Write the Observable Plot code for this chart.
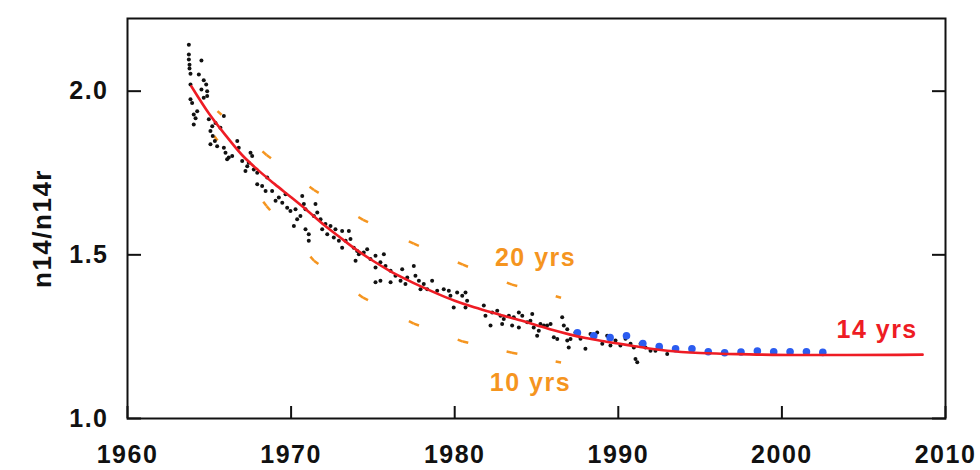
<!DOCTYPE html>
<html>
<head>
<meta charset="utf-8">
<script src="https://cdn.jsdelivr.net/npm/d3@7"></script>
<script src="https://cdn.jsdelivr.net/npm/@observablehq/plot@0.6"></script>
<style>
  html, body { margin: 0; padding: 0; background: #ffffff; }
  #chart svg text { font-family: "Liberation Sans", Arial, sans-serif; font-weight: bold; letter-spacing: 1.5px; }
</style>
</head>
<body>
<div id="chart"></div>
<script>
// Observed ratio (black dots)
const obsYear = [
  1963.75,1963.75,1963.75,1963.79,1963.79,1963.85,1964.52,1964.36,1963.85,1964.66,1964.81,1964.52,1964.87,1964.87,1963.85,1963.95,
  1964.66,1964.26,1964.05,1964.16,1964.05,1964.97,1965.18,1965.38,1965.89,1965.07,1965.21,1965.34,1965.07,1965.48,1965.68,
  1965.89,1965.99,1966.19,1966.40,1966.09,1966.71,1966.80,1967.01,1967.32,1967.41,1967.62,1967.72,1967.21,1967.93,1967.52,
  1967.93,1968.23,1968.54,1968.44,1968.84,1969.05,1969.25,1969.46,1969.66,1969.76,1969.96,1970.27,1970.68,1970.78,1970.37,
  1970.17,1970.57,1970.88,1971.49,1971.60,1971.39,1971.80,1972.10,1971.90,1972.41,1972.71,1970.88,1971.08,1971.08,1972.21,
  1972.61,1972.92,1973.12,1973.53,1973.63,1973.83,1974.04,
  1973.12,1973.33,1973.94,1974.14,1974.44,1974.65,1974.85,1975.16,1975.46,1975.67,1975.77,1975.16,1976.08,1975.46,1975.16,
  1976.08,1976.38,1976.79,1976.69,1976.99,1977.10,1977.50,1977.60,1977.81,1978.11,1978.32,1977.91,1978.62,1978.93,1979.33,
  1979.64,1979.74,1980.15,1980.46,1980.66,1980.76,1979.94,
  1980.66,1981.78,1981.88,1982.29,1982.60,1982.80,1983.00,1983.31,1983.61,1983.92,1984.13,1982.19,1982.90,1983.51,1983.92,
  1984.43,1984.63,1984.74,1984.83,1985.14,1985.24,1985.45,1985.65,1985.86,1985.04,1986.06,1986.27,1986.57,1986.67,1986.88,
  1986.88,1986.97,
  1987.08,1987.38,1987.99,1988.30,1988.71,1989.02,1989.32,1989.83,1990.13,1990.75,1990.95,1991.05,1991.16,1991.36,1991.66,
  1991.97,1992.27,1992.58,1992.99,1987.69,1989.52,1990.44
];
const obsValue = [
  2.142,2.112,2.097,2.081,2.069,2.053,2.094,2.051,2.020,2.033,2.020,2.005,2.000,1.985,1.975,1.964,
  1.980,1.939,1.929,1.917,1.898,1.914,1.893,1.903,1.924,1.878,1.863,1.848,1.838,1.832,1.888,
  1.827,1.812,1.797,1.802,1.792,1.848,1.827,1.787,1.771,1.781,1.802,1.761,1.756,1.751,1.812,
  1.716,1.710,1.736,1.695,1.695,1.665,1.675,1.659,1.685,1.644,1.634,1.639,1.680,1.655,1.609,
  1.588,1.619,1.639,1.655,1.629,1.619,1.609,1.594,1.578,1.588,1.578,1.578,1.563,1.543,1.563,
  1.553,1.543,1.522,1.573,1.548,1.522,1.512,
  1.573,1.543,1.482,1.502,1.507,1.517,1.487,1.497,1.477,1.502,1.466,1.461,1.451,1.421,1.416,
  1.416,1.436,1.456,1.421,1.411,1.431,1.466,1.436,1.421,1.411,1.395,1.395,1.421,1.390,1.395,
  1.390,1.375,1.385,1.375,1.385,1.360,1.339,
  1.339,1.345,1.314,1.324,1.329,1.314,1.304,1.314,1.309,1.324,1.314,1.284,1.289,1.284,1.278,
  1.294,1.299,1.319,1.278,1.268,1.289,1.284,1.284,1.289,1.253,1.248,1.243,1.309,1.284,1.273,
  1.238,1.217,
  1.243,1.263,1.213,1.258,1.263,1.228,1.253,1.238,1.223,1.228,1.217,1.182,1.172,1.228,1.217,
  1.207,1.207,1.213,1.197,1.244,1.223,1.244
];

// Later annual values (blue dots)
const recentYear = [1987.5,1988.5,1989.5,1990.5,1991.5,1992.5,1993.5,1994.5,1995.5,1996.5,1997.5,1998.5,1999.5,2000.5,2001.5,2002.5];
const recentValue = [1.262,1.253,1.247,1.253,1.229,1.220,1.213,1.213,1.204,1.201,1.203,1.206,1.204,1.204,1.204,1.202];

// 14-year model curve (red)
const fitYear = [1963.9,1965,1966,1967,1968,1969,1970,1971,1972,1973,1974,1975,1976,1977,1978,1979,1980,1981,1982,1983,1984,1985,1986,1987,1988,1989,1990,1991,1992,1993,1995,1998,2001,2004,2008.6];
const fitValue = [2.015,1.930,1.865,1.805,1.758,1.716,1.676,1.635,1.592,1.553,1.515,1.482,1.452,1.426,1.402,1.380,1.360,1.343,1.328,1.314,1.300,1.285,1.270,1.257,1.246,1.237,1.229,1.221,1.213,1.207,1.200,1.196,1.194,1.194,1.195];

// 20-year model curve (orange, upper dashes)
const slowYear = [1965.5,1968.5,1971.4,1974.4,1977.5,1980.5,1983.5,1986.5];
const slowValue = [1.939,1.805,1.698,1.607,1.534,1.470,1.409,1.369];

// 10-year model curve (orange, lower dashes)
const fastYear = [1965.3,1968.5,1971.4,1974.4,1977.5,1980.5,1983.5,1986.5];
const fastValue = [1.863,1.649,1.482,1.369,1.290,1.235,1.201,1.171];

// Axis ticks
const xTicks = [1960,1970,1980,1990,2000,2010];
const yTicks = [1.0,1.5,2.0];

// Annotations
const noteText = ["20 yrs","10 yrs","14 yrs"];
const noteYear = [1984.94,1984.63,2005.82];
const noteValue = [1.490,1.109,1.271];
const noteKind = ["slow","fast","fit"];
const yLabel = "n14/n14r";

const ORANGE = "#f5951f";
const RED = "#ee1c24";
const BLUE = "#2b5cf0";

const obs = obsYear.map((x, i) => ({x, y: obsValue[i]}));
const recent = recentYear.map((x, i) => ({x, y: recentValue[i]}));
const fit = fitYear.map((x, i) => ({x, y: fitValue[i]}));
const notes = noteText.map((t, i) => ({t, x: noteYear[i], y: noteValue[i], c: noteKind[i] === "fit" ? RED : ORANGE}));

function dashMarks(xs, ys) {
  const idx = d3.range(xs.length - 1);
  const common = {stroke: ORANGE, strokeWidth: 2.5, strokeDasharray: "5.5,3000", strokeLinecap: "butt"};
  return [
    Plot.link(idx, {x1: i => xs[i], y1: i => ys[i], x2: i => xs[i + 1], y2: i => ys[i + 1], ...common}),
    Plot.link(idx, {x1: i => xs[i + 1], y1: i => ys[i + 1], x2: i => xs[i], y2: i => ys[i], ...common})
  ];
}

const chart = Plot.plot({
  width: 980,
  height: 470,
  marginLeft: 127,
  marginRight: 35,
  marginTop: 18,
  marginBottom: 52,
  style: {background: "#ffffff", color: "#111", fontFamily: "Liberation Sans, Arial, sans-serif", fontSize: "24px"},
  x: {domain: [1960, 2010]},
  y: {domain: [1.0, 2.222]},
  marks: [
    ...dashMarks(slowYear, slowValue),
    ...dashMarks(fastYear, fastValue),
    Plot.dot(obs, {x: "x", y: "y", r: 2.0, fill: "#111", stroke: null}),
    Plot.dot(recent, {x: "x", y: "y", r: 3.8, fill: BLUE, stroke: null}),
    Plot.line(fit, {x: "x", y: "y", stroke: RED, strokeWidth: 2.6, curve: "monotone-x"}),
    Plot.text(notes, {x: "x", y: "y", text: "t", fill: "c", fontSize: 25, fontWeight: "bold"}),
    Plot.text([yLabel], {frameAnchor: "left", textAnchor: "middle", lineAnchor: "middle", rotate: -90, dx: -85, dy: 10, fontSize: 26, fontWeight: "bold", fill: "#111"}),
    Plot.frame({stroke: "#111", strokeWidth: 2}),
    Plot.axisX(xTicks, {anchor: "bottom", tickSize: -12, tickPadding: 39, strokeWidth: 2, tickFormat: d => String(d), fontSize: 25, fontWeight: "bold", label: null}),
    Plot.axisY(yTicks, {anchor: "left", tickSize: -14, tickPadding: 33, strokeWidth: 2, tickFormat: d => d.toFixed(1), fontSize: 25, fontWeight: "bold", label: null}),
    Plot.axisY(yTicks, {anchor: "right", tickSize: -14, strokeWidth: 2, tickFormat: () => "", label: null})
  ]
});
document.getElementById("chart").appendChild(chart);
</script>
</body>
</html>
